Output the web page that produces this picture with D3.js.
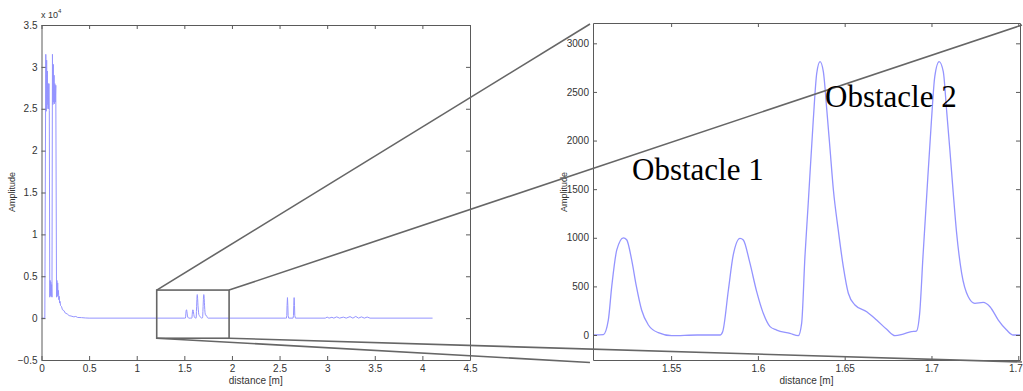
<!DOCTYPE html>
<html><head><meta charset="utf-8">
<script src="https://cdn.jsdelivr.net/npm/d3@7"></script>
<style>body{margin:0;background:#fff}svg{display:block}</style>
</head><body>
<svg id="c" width="1023" height="391"></svg>
<script>
// ---- DATA ----
const burstDistance = [0,0.035,0.045,0.05,0.054,0.058,0.062,0.066,0.07,0.074,0.078,0.082,0.087,0.091,0.094,0.098,0.102,0.106,0.11,0.115,0.12,0.124,0.128,0.132,0.136,0.14,0.145,0.15,0.158,0.162,0.166,0.17,0.174,0.178,0.182,0.186,0.19,0.195,0.2,0.21,0.22,0.235,0.25,0.27,0.29,0.31,0.34,0.36,0.38,0.42,0.46,0.5,1.505];
const burstAmplitude = [0,0,31500,24700,30800,25000,29500,25500,28000,25000,28000,24800,2500,4500,2700,4300,2600,4000,2500,31500,25500,30300,25800,29000,25600,28000,25800,27800,2500,4500,2600,4200,2800,3300,2200,2600,1800,2000,1500,1400,1000,900,600,500,300,250,150,200,80,60,20,0,0];

const obstacleDistance = [1.505,1.511,1.5138,1.5158,1.5187,1.5225,1.5244,1.5273,1.530,1.533,1.5369,1.5426,1.5503,1.565,1.5782,1.5797,1.583,1.5858,1.5897,1.5916,1.5952,1.5993,1.6031,1.607,1.6108,1.6185,1.6233,1.6252,1.6271,1.629,1.6319,1.6339,1.6358,1.6377,1.6397,1.6416,1.6435,1.6463,1.6492,1.6521,1.6559,1.6627,1.6684,1.6742,1.679,1.6837,1.6884,1.6913,1.6932,1.6951,1.6971,1.7,1.7019,1.7044,1.7068,1.7087,1.7106,1.7125,1.7145,1.7174,1.7212,1.725,1.7298,1.7337,1.7385,1.7433,1.7471,1.751];
const obstacleAmplitude = [0,5,150,500,875,1000,980,770,500,257,103,24,-7,0,0,34,463,823,994,977,754,446,223,86,51,17,-7,120,806,1355,2211,2692,2811,2708,2314,1903,1491,1080,703,429,309,240,154,58,-7,10,34,41,223,806,1389,2211,2657,2811,2708,2314,1903,1470,1046,635,394,326,336,291,154,51,0,0];

const farDistance = [1.751,2.56,2.572,2.576,2.579,2.583,2.587,2.59,2.596,2.64,2.642,2.646,2.649,2.653,2.657,2.66,2.667,2.98,3.0,3.02,3.05,3.07,3.1,3.13,3.17,3.2,3.24,3.27,3.3,3.33,3.36,3.39,3.42,3.45,4.107];
const farAmplitude = [0,0,0,300,1500,2450,1500,300,0,0,0,300,1500,2450,1500,300,0,0,120,0,100,0,150,0,120,0,180,0,200,0,150,0,130,0,0];

const leftXTicks = [0,0.5,1,1.5,2,2.5,3,3.5,4,4.5];
const leftYTicks = [-5000,0,5000,10000,15000,20000,25000,30000,35000];
const rightXTicks = [1.55,1.6,1.65,1.7,1.75];
const rightYTicks = [0,500,1000,1500,2000,2500,3000];
const zoomBoxX = [1.21,1.97];
const zoomBoxY = [-2400,3350];
const labels = [{text:"Obstacle 1"},{text:"Obstacle 2"}];

// ---- DRAW ----
const svg = d3.select("#c");
const axisColor = "#5a5a5a";
const textColor = "#333";
const lineColor = "#9494ff";

function frame(g, x, y, xt, yt, xfmt, yfmt){
  const [x0,x1] = x.range(), [y0,y1] = y.range();
  const bx = g.append("g").attr("transform",`translate(0,${y0})`)
    .call(d3.axisBottom(x).tickValues(xt).tickSizeInner(-4).tickSizeOuter(0).tickPadding(5).tickFormat(xfmt));
  const tx = g.append("g").attr("transform",`translate(0,${y1})`)
    .call(d3.axisTop(x).tickValues(xt).tickSizeInner(-4).tickSizeOuter(0).tickFormat(""));
  const ly = g.append("g").attr("transform",`translate(${x0},0)`)
    .call(d3.axisLeft(y).tickValues(yt).tickSizeInner(-4).tickSizeOuter(0).tickPadding(4).tickFormat(yfmt));
  const ry = g.append("g").attr("transform",`translate(${x1},0)`)
    .call(d3.axisRight(y).tickValues(yt).tickSizeInner(-4).tickSizeOuter(0).tickFormat(""));
  [bx,tx,ly,ry].forEach(a=>{
    a.selectAll(".domain").attr("stroke",axisColor).attr("stroke-width",1);
    a.selectAll(".tick line").attr("stroke",axisColor);
    a.selectAll("text").attr("fill",textColor).attr("font-family","Liberation Sans, Arial, sans-serif").attr("font-size",10);
  });
}

// Left chart
const xL = d3.scaleLinear().domain([0,4.5]).range([41.5,470]);
const yL = d3.scaleLinear().domain([-5000,35000]).range([360,25]);
const gL = svg.append("g");
svg.append("clipPath").attr("id","clipL").append("rect")
  .attr("x",41.5).attr("y",25).attr("width",470-41.5).attr("height",335);
const fullD = burstDistance.concat(obstacleDistance.slice(1), farDistance.slice(1));
const fullA = burstAmplitude.concat(obstacleAmplitude.slice(1), farAmplitude.slice(1));
const leftPts = fullD.map((d,i)=>[d,fullA[i]]);
gL.append("path").attr("clip-path","url(#clipL)")
  .attr("d", d3.line().x(d=>xL(d[0])).y(d=>yL(d[1]))(leftPts))
  .attr("fill","none").attr("stroke",lineColor).attr("stroke-width",1);
frame(gL, xL, yL, leftXTicks, leftYTicks, d3.format("~g"), v=>d3.format("~g")(v/10000));
gL.append("text").attr("x",41).attr("y",18).attr("fill",textColor)
  .attr("font-family","Liberation Sans, Arial, sans-serif").attr("font-size",9)
  .text("x 10").append("tspan").attr("dy",-5).attr("font-size",6).text("4");
gL.append("text").attr("x",(41.5+470)/2).attr("y",384).attr("text-anchor","middle")
  .attr("fill",textColor).attr("font-family","Liberation Sans, Arial, sans-serif").attr("font-size",10).text("distance [m]");
gL.append("text").attr("transform",`translate(15,192) rotate(-90)`).attr("text-anchor","middle")
  .attr("fill",textColor).attr("font-family","Liberation Sans, Arial, sans-serif").attr("font-size",9).text("Amplitude");

// Right chart
const xR = d3.scaleLinear().domain([1.505,1.751]).range([593,1020]);
const yR = d3.scaleLinear().domain([-257,3209]).range([360,23]);
const gR = svg.append("g");
svg.append("clipPath").attr("id","clipR").append("rect")
  .attr("x",593).attr("y",23).attr("width",1020-593).attr("height",337);
const rightPts = obstacleDistance.map((d,i)=>[d,obstacleAmplitude[i]]);
gR.append("path").attr("clip-path","url(#clipR)")
  .attr("d", d3.line().curve(d3.curveMonotoneX).x(d=>xR(d[0])).y(d=>yR(d[1]))(rightPts))
  .attr("fill","none").attr("stroke",lineColor).attr("stroke-width",1.3);
frame(gR, xR, yR, rightXTicks, rightYTicks, d3.format("~g"), d3.format("d"));
gR.append("text").attr("x",(593+1020)/2).attr("y",384).attr("text-anchor","middle")
  .attr("fill",textColor).attr("font-family","Liberation Sans, Arial, sans-serif").attr("font-size",10).text("distance [m]");
gR.append("text").attr("transform",`translate(567,192) rotate(-90)`).attr("text-anchor","middle")
  .attr("fill",textColor).attr("font-family","Liberation Sans, Arial, sans-serif").attr("font-size",9).text("Amplitude");

// Zoom box + connector lines
const bx0 = xL(zoomBoxX[0]), bx1 = xL(zoomBoxX[1]);
const by0 = yL(zoomBoxY[1]), by1 = yL(zoomBoxY[0]);
const zc = "#666", zw = 1.6;
svg.append("rect").attr("x",bx0).attr("y",by0).attr("width",bx1-bx0).attr("height",by1-by0)
  .attr("fill","none").attr("stroke",zc).attr("stroke-width",zw);
const [rx0,rx1] = xR.range(), [ry0,ry1] = yR.range();
const conns = [[bx0,by0,rx0-3,ry1+1],[bx1,by0,rx1+2,ry1+2],[bx0,by1,rx0-3,ry0+2.5],[bx1,by1,rx1+2,ry0+2]];
svg.selectAll("line.conn").data(conns).join("line").attr("class","conn")
  .attr("x1",d=>d[0]).attr("y1",d=>d[1]).attr("x2",d=>d[2]).attr("y2",d=>d[3])
  .attr("stroke",zc).attr("stroke-width",zw);

// Obstacle labels
const labelPos = [[632,180],[825,107]];
svg.selectAll("text.obs").data(labels).join("text").attr("class","obs")
  .attr("x",(d,i)=>labelPos[i][0]).attr("y",(d,i)=>labelPos[i][1])
  .attr("font-family","Liberation Serif, Times New Roman, serif").attr("font-size",31)
  .attr("fill","#000").text(d=>d.text);
</script>
</body></html>
